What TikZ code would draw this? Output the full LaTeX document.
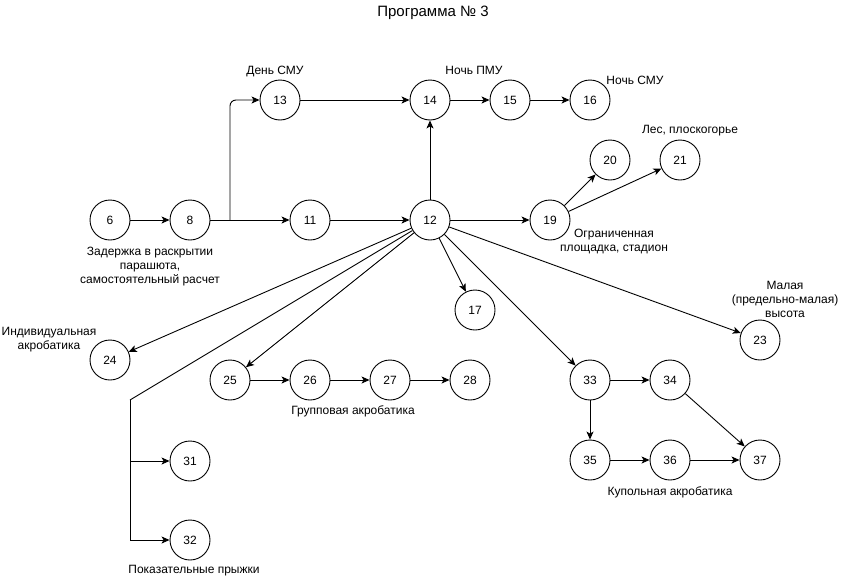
\documentclass[tikz,border=0pt]{standalone}
\usepackage{fontspec}
\setmainfont{Liberation Sans}
\usetikzlibrary{arrows.meta}
\begin{document}
\begin{tikzpicture}[x=1pt,y=-1pt,
  st/.style={circle,draw,line width=0.9pt,minimum size=40pt,inner sep=0pt,font=\fontsize{12}{14}\selectfont},
  lbl/.style={align=center,inner sep=0pt,font=\fontsize{12}{14}\selectfont},
  arr/.style={line width=0.9pt,-{Stealth[length=8pt,width=7pt,inset=2pt]}},
  ln/.style={line width=0.9pt}]
\useasboundingbox (0,0) rectangle (850,581);
% nodes
\node[st] (n6) at (110,220) {6};
\node[st] (n8) at (190,220) {8};
\node[st] (n11) at (310,220) {11};
\node[st] (n12) at (430,220) {12};
\node[st] (n13) at (280,100) {13};
\node[st] (n14) at (430,100) {14};
\node[st] (n15) at (510,100) {15};
\node[st] (n16) at (590,100) {16};
\node[st] (n19) at (550,220) {19};
\node[st] (n20) at (610,160) {20};
\node[st] (n21) at (680,160) {21};
\node[st] (n17) at (475,310) {17};
\node[st] (n23) at (760,340) {23};
\node[st] (n24) at (110,360) {24};
\node[st] (n25) at (230,380) {25};
\node[st] (n26) at (310,380) {26};
\node[st] (n27) at (390,380) {27};
\node[st] (n28) at (470,380) {28};
\node[st] (n31) at (190,461) {31};
\node[st] (n32) at (190,540) {32};
\node[st] (n33) at (590,380) {33};
\node[st] (n34) at (670,380) {34};
\node[st] (n35) at (590,460) {35};
\node[st] (n36) at (670,460) {36};
\node[st] (n37) at (760,460) {37};
% labels
\node[lbl,font=\fontsize{15}{17}\selectfont] (title) at (433,13) {Программа № 3};
\node[lbl] (l13) at (275,72) {День СМУ};
\node[lbl] (l14) at (474,70) {Ночь ПМУ};
\node[lbl] (l16) at (635,80) {Ночь СМУ};
\node[lbl] (l21) at (690,131) {Лес, плоскогорье};
\node[lbl] (l19) at (614,242) {Ограниченная\\площадка, стадион};
\node[lbl] (l8) at (150,267) {Задержка в раскрытии\\парашюта,\\самостоятельный расчет};
\node[lbl] (l24) at (49,340) {Индивидуальная\\акробатика};
\node[lbl] (l27) at (353,411) {Групповая акробатика};
\node[lbl] (l32) at (194,571) {Показательные прыжки};
\node[lbl] (l23) at (785,299) {Малая\\(предельно-малая)\\высота};
\node[lbl] (l36) at (670,492) {Купольная акробатика};
% coordinates
\coordinate (c8) at (230,220);
\coordinate (c31) at (130,400);
% edges
\draw[arr] (n6) -- (n8);
\draw[arr] (n8) -- (n11);
\draw[arr,rounded corners=6pt] (c8) |- (n13);
\draw[arr] (n11) -- (n12);
\draw[arr] (n13) -- (n14);
\draw[arr] (n14) -- (n15);
\draw[arr] (n15) -- (n16);
\draw[arr] (n12) -- (n14);
\draw[arr] (n12) -- (n19);
\draw[arr] (n19) -- (n20);
\draw[arr] (n19) -- (n21);
\draw[arr] (n12) -- (n17);
\draw[arr] (n12) -- (n23);
\draw[arr] (n12) -- (n24);
\draw[arr] (n12) -- (n25);
\draw[arr] (n12) -- (n33);
\draw[ln] (n12) -- (c31);
\draw[arr] (c31) |- (n31);
\draw[arr] (c31) |- (n32);
\draw[arr] (n25) -- (n26);
\draw[arr] (n26) -- (n27);
\draw[arr] (n27) -- (n28);
\draw[arr] (n33) -- (n34);
\draw[arr] (n33) -- (n35);
\draw[arr] (n35) -- (n36);
\draw[arr] (n36) -- (n37);
\draw[arr] (n34) -- (n37);
\end{tikzpicture}
\end{document}
